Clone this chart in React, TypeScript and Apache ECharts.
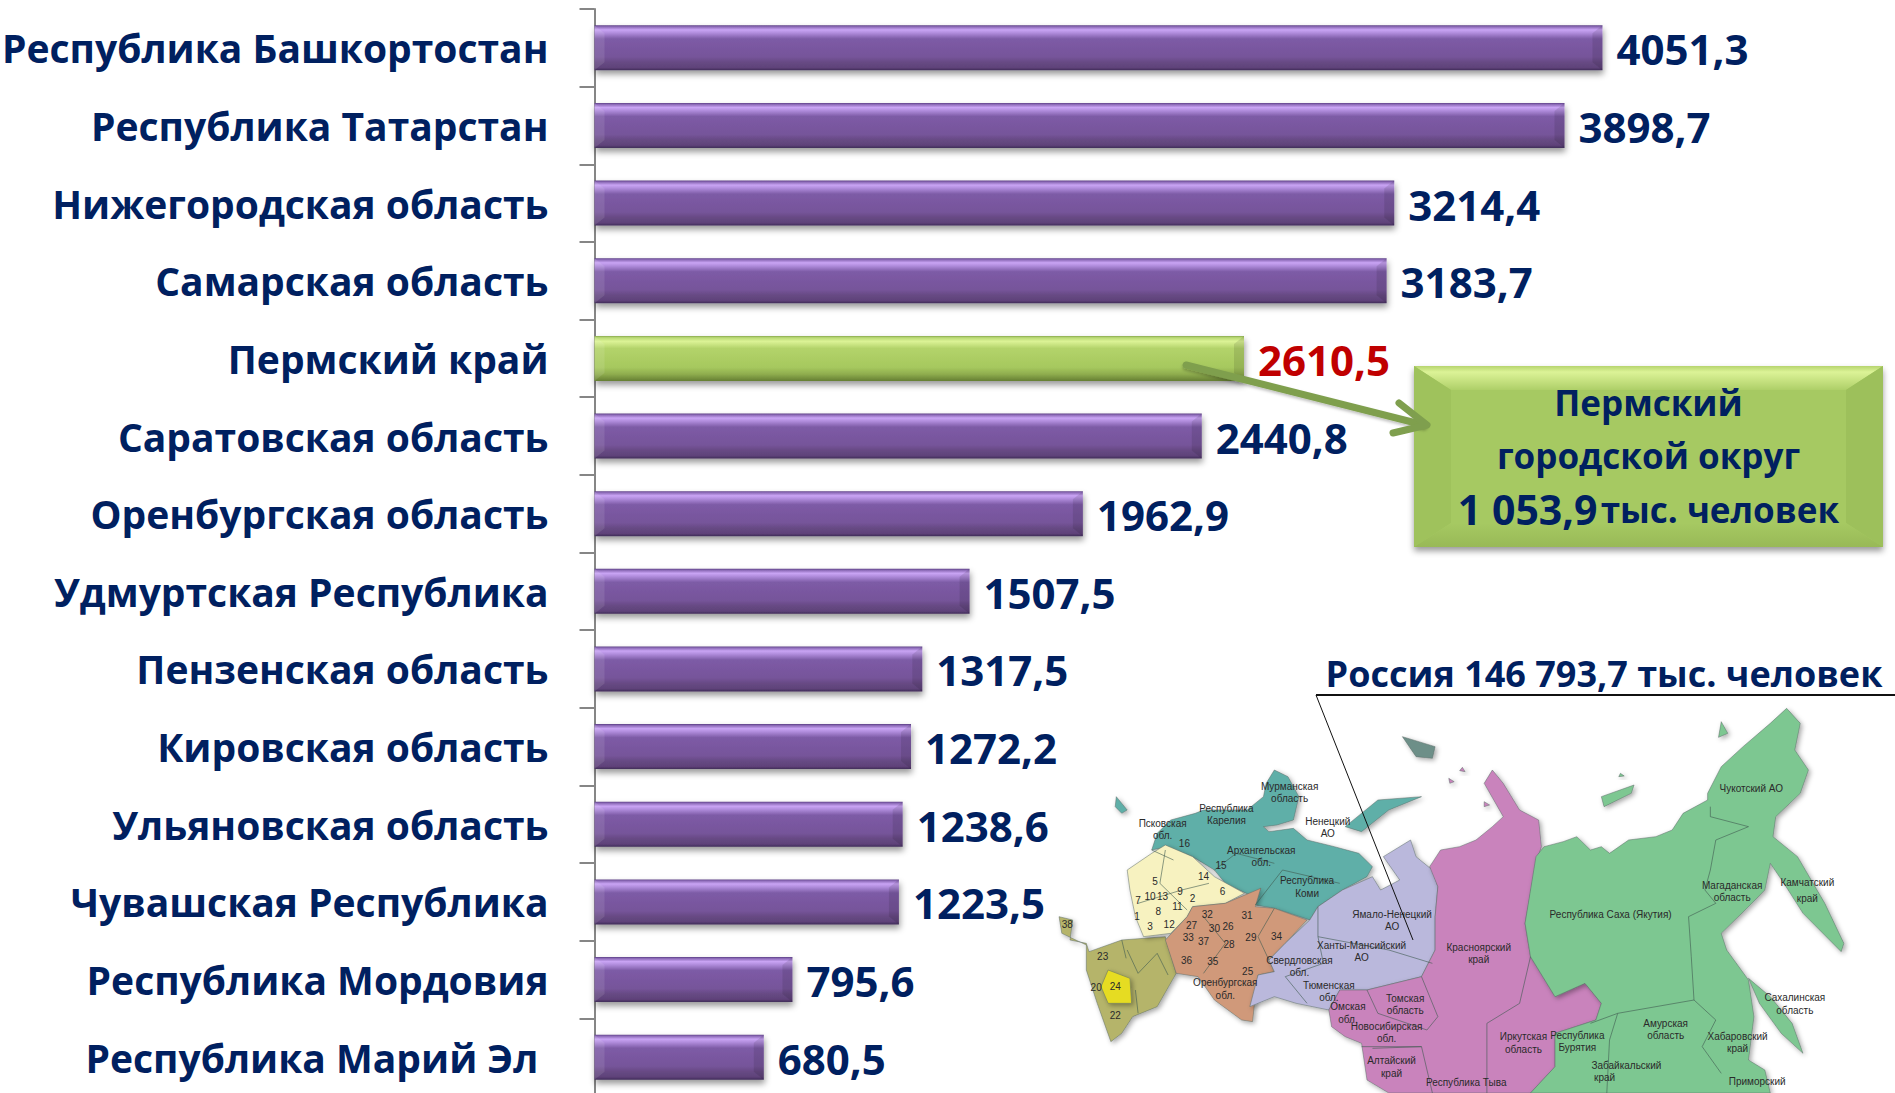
import React, { useEffect, useRef } from "react";
import * as echarts from "echarts";

const categories = [
  "Республика Башкортостан", "Республика Татарстан", "Нижегородская область", "Самарская область",
  "Пермский край", "Саратовская область", "Оренбургская область", "Удмуртская Республика",
  "Пензенская область", "Кировская область", "Ульяновская область", "Чувашская Республика",
  "Республика Мордовия", "Республика Марий Эл\u00a0",
];
const population = [4051.3, 3898.7, 3214.4, 3183.7, 2610.5, 2440.8, 1962.9, 1507.5, 1317.5, 1272.2, 1238.6, 1223.5, 795.6, 680.5];
const highlighted = "Пермский край";

const NAVY = "#002060";
const FONT = '"Open Sans", "Noto Sans", sans-serif';
const NARROW = '"Liberation Sans Narrow", "Liberation Sans", sans-serif';

const grad = (stops: [number, string][]) =>
  new echarts.graphic.LinearGradient(0, 0, 0, 1, stops.map(([offset, color]) => ({ offset, color })));

const purple = () => grad([
  [0, "#5c3f85"], [0.03, "#8a68b5"], [0.1, "#c9a4f4"], [0.17, "#b08cdc"], [0.3, "#7d5ba6"],
  [0.7, "#76549a"], [0.82, "#674a84"], [0.94, "#5f4279"], [1, "#3f2c58"],
]);
const green = () => grad([
  [0, "#86a64c"], [0.04, "#b9d974"], [0.12, "#dcf396"], [0.28, "#b3d36a"],
  [0.7, "#a6c85e"], [0.85, "#8fad4e"], [1, "#657f33"],
]);

const z = (pts: number[][]) => pts.map(([x, y]) => [1040 + x * 0.545, 650 + y / 3]);

const mapRegions: { fill: string; pts: number[][] }[] = [
  { fill: "#B5B46A", pts: [[35, 800], [60, 810], [55, 870], [85, 880], [90, 905], [150, 870], [230, 860], [250, 970], [215, 1070], [170, 1100], [150, 1150], [130, 1175], [105, 1060], [85, 960], [85, 885], [40, 850]] },
  { fill: "#E6DC20", pts: [[125, 960], [165, 985], [168, 1060], [125, 1060], [112, 1010]] },
  { fill: "#5FAFA8", pts: [[240, 510], [285, 490], [300, 480], [380, 480], [410, 440], [415, 400], [430, 360], [455, 380], [475, 440], [465, 510], [435, 525], [410, 530], [420, 545], [465, 535], [490, 570], [540, 590], [585, 610], [610, 650], [600, 680], [555, 720], [510, 770], [495, 810], [430, 775], [395, 765], [405, 715], [385, 735], [340, 700], [320, 660], [280, 620], [235, 590], [205, 600], [215, 550]] },
  { fill: "#F7F2C0", pts: [[230, 585], [280, 620], [320, 680], [375, 730], [340, 760], [280, 770], [270, 800], [240, 850], [190, 860], [175, 800], [165, 720], [160, 660], [205, 610]] },
  { fill: "#D0997A", pts: [[405, 715], [395, 770], [430, 775], [490, 810], [450, 880], [420, 930], [430, 965], [400, 975], [395, 1040], [390, 1115], [370, 1110], [320, 1050], [290, 980], [250, 970], [230, 870], [270, 800], [280, 770], [340, 760]] },
  { fill: "#BAB8DC", pts: [[510, 770], [555, 720], [610, 680], [625, 720], [660, 690], [630, 620], [680, 570], [690, 620], [720, 660], [730, 710], [725, 800], [725, 900], [700, 980], [600, 1020], [550, 1020], [530, 1080], [470, 1060], [430, 1040], [385, 1070], [400, 975], [430, 965], [420, 930], [450, 880], [495, 810]] },
  { fill: "#C983BC", pts: [[830, 360], [850, 400], [880, 480], [915, 510], [920, 590], [910, 640], [890, 820], [900, 920], [945, 1040], [1000, 1000], [1030, 1060], [1020, 1110], [945, 1150], [945, 1250], [900, 1329], [640, 1329], [600, 1290], [590, 1180], [560, 1160], [535, 1130], [530, 1080], [550, 1020], [600, 1020], [700, 980], [725, 900], [725, 800], [730, 710], [715, 650], [735, 600], [770, 590], [800, 570], [830, 530], [850, 500], [815, 400]] },
  { fill: "#7DC791", pts: [[910, 620], [925, 590], [960, 575], [985, 560], [1010, 600], [1030, 590], [1045, 610], [1080, 570], [1130, 560], [1160, 540], [1180, 490], [1225, 450], [1225, 430], [1250, 350], [1290, 290], [1340, 220], [1370, 175], [1395, 220], [1385, 300], [1410, 360], [1395, 430], [1350, 500], [1345, 560], [1390, 620], [1440, 760], [1475, 880], [1470, 905], [1400, 790], [1365, 700], [1340, 640], [1330, 720], [1300, 770], [1250, 850], [1260, 900], [1300, 990], [1310, 1100], [1300, 1230], [1330, 1260], [1340, 1329], [900, 1329], [945, 1250], [945, 1150], [1020, 1110], [1030, 1060], [1000, 1000], [945, 1040], [900, 920], [890, 820]] },
  { fill: "#7DC791", pts: [[1300, 985], [1340, 1040], [1380, 1120], [1400, 1210], [1360, 1150], [1320, 1060]] },
  { fill: "#5FAFA8", pts: [[560, 530], [620, 450], [700, 440], [640, 480], [590, 545]] },
  { fill: "#5FAFA8", pts: [[140, 440], [160, 480], [150, 490], [138, 470]] },
  { fill: "#7DC791", pts: [[1250, 215], [1262, 250], [1245, 262]] },
  { fill: "#7DC791", pts: [[1030, 440], [1090, 405], [1085, 430], [1035, 470]] },
  { fill: "#6D8F88", pts: [[665, 260], [725, 290], [720, 325], [690, 320]] },
  { fill: "#C983BC", pts: [[775, 352], [780, 365], [770, 362]] },
  { fill: "#C983BC", pts: [[750, 385], [760, 395], [752, 400]] },
  { fill: "#C983BC", pts: [[815, 455], [825, 465], [815, 470]] },
  { fill: "#7DC791", pts: [[1065, 370], [1072, 378], [1062, 380]] },
];

const mapBorders: number[][][] = [
  [[1230, 470], [1230, 500], [1300, 530], [1240, 570], [1230, 660], [1220, 720], [1240, 760], [1190, 800], [1195, 920], [1200, 1050], [1060, 1090], [1010, 1120]],
  [[1060, 1090], [1045, 1170], [1040, 1329]],
  [[1200, 1050], [1240, 1110], [1215, 1190], [1250, 1270]],
  [[600, 1020], [620, 1090], [710, 1140], [730, 1100], [700, 980]],
  [[590, 1190], [700, 1190], [720, 1329]],
  [[820, 1329], [820, 1120], [880, 1060], [900, 920]],
  [[510, 770], [510, 860], [520, 940], [450, 980], [490, 1060]],
  [[510, 860], [640, 900], [720, 940]],
  [[430, 775], [400, 860], [420, 930]],
  [[300, 800], [340, 880], [300, 970]],
  [[395, 765], [445, 660], [550, 700]],
  [[320, 660], [360, 610], [430, 640]],
  [[160, 900], [180, 970], [215, 910], [235, 975]],
  [[230, 600], [220, 700], [270, 780]],
  [[180, 760], [260, 720], [310, 700]],
  [[205, 600], [245, 630]],
  [[610, 1195], [700, 1190]],
  [[150, 870], [158, 925]],
  [[175, 1020], [180, 1090]],
];

const mapLabels: [string, number, number][] = [
  ["Мурманская", 458, 408], ["область", 458, 445], ["Республика", 342, 474], ["Карелия", 342, 511],
  ["Псковская", 225, 520], ["обл.", 225, 557], ["Ненецкий", 528, 514], ["АО", 528, 549],
  ["Архангельская", 406, 602], ["обл.", 406, 638], ["Республика", 490, 692], ["Коми", 490, 729],
  ["Ямало-Ненецкий", 646, 792], ["АО", 646, 828], ["Ханты-Мансийский", 590, 885], ["АО", 590, 922],
  ["Свердловская", 476, 930], ["обл.", 476, 966], ["Тюменская", 530, 1005], ["обл.", 530, 1041],
  ["Оренбургская", 340, 998], ["обл.", 340, 1035], ["Омская", 565, 1070], ["обл.", 565, 1107],
  ["Томская", 670, 1044], ["область", 670, 1081], ["Новосибирская", 636, 1130], ["обл.", 636, 1166],
  ["Алтайский", 645, 1232], ["край", 645, 1269], ["Красноярский", 805, 892], ["край", 805, 929],
  ["Иркутская", 887, 1160], ["область", 887, 1197], ["Республика", 986, 1155], ["Бурятия", 986, 1191],
  ["Забайкальский", 1076, 1247], ["край", 1036, 1281], ["Амурская", 1148, 1120], ["область", 1148, 1157],
  ["Хабаровский", 1280, 1158], ["край", 1280, 1194], ["Республика Саха (Якутия)", 1047, 792],
  ["Магаданская", 1270, 705], ["область", 1270, 742], ["Камчатский", 1408, 698], ["край", 1408, 744],
  ["Чукотский АО", 1305, 414], ["Сахалинская", 1385, 1042], ["область", 1385, 1080], ["Приморский", 1316, 1295],
  ["Республика Тыва", 782, 1298], ["16", 265, 580], ["15", 332, 646], ["14", 300, 680], ["6", 335, 725],
  ["5", 211, 695], ["9", 257, 725], ["2", 280, 745], ["10", 202, 738], ["13", 225, 738], ["7", 180, 750],
  ["11", 252, 770], ["8", 217, 785], ["1", 178, 800], ["3", 202, 828], ["12", 237, 822], ["32", 307, 792],
  ["31", 380, 797], ["27", 278, 826], ["30", 320, 835], ["26", 345, 830], ["29", 387, 862], ["34", 434, 860],
  ["33", 272, 862], ["37", 300, 873], ["28", 347, 884], ["36", 269, 932], ["35", 317, 935], ["25", 381, 965],
  ["23", 115, 920], ["24", 138, 1010], ["20", 103, 1012], ["22", 138, 1095], ["38", 50, 822],
];

function buildGraphics(): any[] {
  const g: any[] = [];
  mapRegions.forEach((r) =>
    g.push({
      type: "polygon", z: 5, silent: true,
      shape: { points: z(r.pts) },
      style: { fill: r.fill, stroke: "#5b6a66", lineWidth: 0.5, shadowColor: "rgba(0,0,0,0.35)", shadowBlur: 5, shadowOffsetX: 2, shadowOffsetY: 2 },
    }),
  );
  mapBorders.forEach((b) =>
    g.push({ type: "polyline", z: 6, silent: true, shape: { points: z(b) }, style: { stroke: "#3f5a50", lineWidth: 0.6, fill: "none" } }),
  );
  mapLabels.forEach(([text, x, y]) => {
    const [[px, py]] = z([[x, y]]);
    g.push({
      type: "text", z: 7, silent: true, x: px, y: py,
      style: { text, fill: "#2a2a2a", font: `10px ${NARROW}`, textAlign: "center", textVerticalAlign: "middle" },
    });
  });
  g.push(
    { type: "line", z: 8, silent: true, shape: { x1: 1316, y1: 695, x2: 1895, y2: 695 }, style: { stroke: "#111", lineWidth: 2 } },
    { type: "line", z: 8, silent: true, shape: { x1: 1316, y1: 695, x2: 1413, y2: 940 }, style: { stroke: "#111", lineWidth: 1 } },
    {
      type: "text", z: 9, silent: true, x: 1604, y: 673,
      style: { text: "Россия 146 793,7 тыс. человек", fill: NAVY, font: `bold 36px ${FONT}`, textAlign: "center", textVerticalAlign: "middle" },
    },
  );

  // Callout box with bevelled edges
  const L = 1414, R = 1883, T = 366, B = 547, dx = 37, dy = 24;
  g.push(
    {
      type: "rect", z: 10, silent: true, shape: { x: L, y: T, width: R - L, height: B - T },
      style: { fill: "#A6C962", shadowColor: "rgba(0,0,0,0.4)", shadowBlur: 6, shadowOffsetY: 4 },
    },
    {
      type: "polygon", z: 11, silent: true,
      shape: { points: [[L, T], [R, T], [R - dx, T + dy], [L + dx, T + dy]] },
      style: { fill: new echarts.graphic.LinearGradient(0, 0, 0, 1, [{ offset: 0, color: "#b6d46e" }, { offset: 0.25, color: "#dcf397" }, { offset: 1, color: "#aecf68" }]) },
    },
    { type: "polygon", z: 11, silent: true, shape: { points: [[L, T], [L + dx, T + dy], [L + dx, B - dy], [L, B]] }, style: { fill: "#9fc25c" } },
    { type: "polygon", z: 11, silent: true, shape: { points: [[R, T], [R - dx, T + dy], [R - dx, B - dy], [R, B]] }, style: { fill: "#9dc05b" } },
    {
      type: "polygon", z: 11, silent: true,
      shape: { points: [[L, B], [R, B], [R - dx, B - dy], [L + dx, B - dy]] },
      style: { fill: new echarts.graphic.LinearGradient(0, 0, 0, 1, [{ offset: 0, color: "#a6c962" }, { offset: 1, color: "#98b957" }]) },
    },
  );
  const cx = (L + R) / 2;
  [["Пермский", 402], ["городской округ", 455]].forEach(([text, y]) =>
    g.push({
      type: "text", z: 12, silent: true, x: cx, y,
      style: { text, fill: NAVY, font: `bold 35px ${FONT}`, textAlign: "center", textVerticalAlign: "middle" },
    }),
  );
  g.push({
    type: "text", z: 12, silent: true, x: cx, y: 509,
    style: {
      text: "{a|1 053,9} {b|тыс. человек}", textAlign: "center", textVerticalAlign: "middle",
      rich: {
        a: { fill: NAVY, font: `bold 41px ${FONT}` },
        b: { fill: NAVY, font: `bold 35px ${FONT}` },
      },
    },
  });

  // Arrow from the highlighted bar to the callout
  g.push(
    { type: "polyline", z: 13, silent: true, shape: { points: [[1186, 365], [1424, 425]] }, style: { stroke: "#7F9F4E", lineWidth: 7, lineCap: "round", fill: "none", shadowColor: "rgba(0,0,0,0.25)", shadowBlur: 3, shadowOffsetY: 2 } },
    { type: "polyline", z: 13, silent: true, shape: { points: [[1399, 403], [1427, 425], [1393, 433]] }, style: { stroke: "#7F9F4E", lineWidth: 7, lineCap: "round", lineJoin: "round", fill: "none" } },
  );
  return g;
}

export default function App() {
  const ref = useRef<HTMLDivElement>(null);
  useEffect(() => {
    document.body.style.margin = "0";
    document.documentElement.style.overflow = "hidden";
    const chart = echarts.init(ref.current!, null, { renderer: "svg" });
    chart.setOption({
      animation: false,
      backgroundColor: "#ffffff",
      grid: { left: 594.5, top: 9, width: 1244, height: 1087, containLabel: false, outerBoundsMode: "none" },
      xAxis: { type: "value", min: 0, max: 5000, show: false },
      yAxis: {
        type: "category",
        inverse: true,
        data: categories,
        axisLine: { show: true, lineStyle: { color: "#868686", width: 2 } },
        axisTick: { show: true, length: 15, lineStyle: { color: "#868686", width: 2 } },
        axisLabel: { color: NAVY, fontFamily: FONT, fontWeight: "bold", fontSize: 39, margin: 46, interval: 0, align: "right", padding: [0, 0, 2, 0] },
      },
      series: [
        {
          type: "bar",
          barWidth: 45,
          data: population.map((value, i) => {
            const on = categories[i] === highlighted;
            return {
              value,
              itemStyle: { color: on ? green() : purple() },
              label: { color: on ? "#C00000" : NAVY },
            };
          }),
          itemStyle: { shadowColor: "rgba(0,0,0,0.4)", shadowBlur: 6, shadowOffsetY: 4, shadowOffsetX: 1 },
          label: {
            show: true, position: "right", distance: 14, offset: [0, 1],
            fontFamily: FONT, fontWeight: "bold", fontSize: 42,
            formatter: (p: any) => String(p.value).replace(".", ","),
          },
          z: 2,
        },
        {
          type: "custom",
          silent: true,
          z: 3,
          data: population.map((value, i) => [value, i]),
          renderItem: (_: any, api: any) => {
            const [x1, y] = api.coord([api.value(0), api.value(1)]);
            const [x0] = api.coord([0, api.value(1)]);
            const h = 45, t = y - h / 2, b = y + h / 2, d = 10, e = 8;
            return {
              type: "group",
              children: [
                { type: "polygon", shape: { points: [[x0, t], [x0 + d, t + e], [x0 + d, b - e], [x0, b]] }, style: { fill: "rgba(255,255,255,0.1)" } },
                { type: "polygon", shape: { points: [[x1, t], [x1 - d, t + e], [x1 - d, b - e], [x1, b]] }, style: { fill: "rgba(0,0,0,0.1)" } },
              ],
            };
          },
          encode: { x: 0, y: 1 },
        },
      ],
      graphic: { elements: buildGraphics() },
    });
    return () => chart.dispose();
  }, []);
  return <div ref={ref} style={{ position: "absolute", left: 0, top: 0, width: 1895, height: 1093 }} />;
}
